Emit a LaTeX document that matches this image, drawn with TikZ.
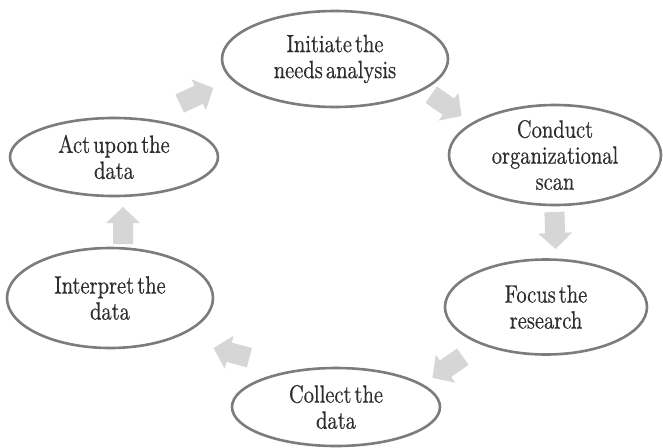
\documentclass[tikz,border=0pt]{standalone}
\usepackage{fontspec}
\usepackage{graphicx}
\newfontfamily\stagefont[WordSpace=0.45,FakeBold=0.5]{lmroman10-regular.otf}
\usetikzlibrary{shapes.geometric}
\definecolor{ringgray}{HTML}{7C7C7C}
\definecolor{txtgray}{HTML}{2E2E2E}
\definecolor{arrgray}{HTML}{D6D6D6}
\newcommand{\sq}[1]{\scalebox{0.82}[1]{#1}}
\tikzset{
  stage/.style={ellipse, draw=ringgray, line width=2.6pt, fill=white, inner sep=0pt,
    align=center, text=txtgray, font=\stagefont\fontsize{25}{26}\selectfont},
  cyclearrow/.style={fill=arrgray, draw=none}
}
\newcommand{\blockarrow}[3]{%
  \coordinate (#1) at (#2);
  \begin{scope}[shift={(#1)}, rotate=#3]
    \fill[cyclearrow] (-18,-10) -- (3,-10) -- (3,-17) -- (19,0) -- (3,17) -- (3,10) -- (-18,10) -- cycle;
  \end{scope}}
\begin{document}
\begin{tikzpicture}[x=1pt,y=-1pt]
\useasboundingbox[fill=white] (0,0) rectangle (663,447);
\node[stage, minimum width=226pt, minimum height=96pt] (init) at (335,59) {\sq{Initiate the}\\\sq{needs analysis}};
\node[stage, minimum width=212pt, minimum height=100pt] (conduct) at (555,155) {\sq{Conduct}\\\sq{organizational}\\\sq{scan}};
\node[stage, minimum width=202pt, minimum height=95pt] (focus) at (546,307) {\sq{Focus the}\\\sq{research}};
\node[stage, minimum width=208pt, minimum height=78pt] (collect) at (336,407) {\sq{Collect the}\\\sq{data}};
\node[stage, minimum width=206pt, minimum height=100pt] (interp) at (110,298) {\sq{Interpret the}\\\sq{data}};
\node[stage, minimum width=208pt, minimum height=78pt] (act) at (114,157) {\sq{Act upon the}\\\sq{data}};
\blockarrow{a1}{196,96}{25}
\blockarrow{a2}{446,105}{-35}
\blockarrow{a3}{555,230}{-88}
\blockarrow{a4}{448,367}{-145}
\blockarrow{a5}{232,353}{165}
\blockarrow{a6}{123,226}{90}
\end{tikzpicture}
\end{document}
